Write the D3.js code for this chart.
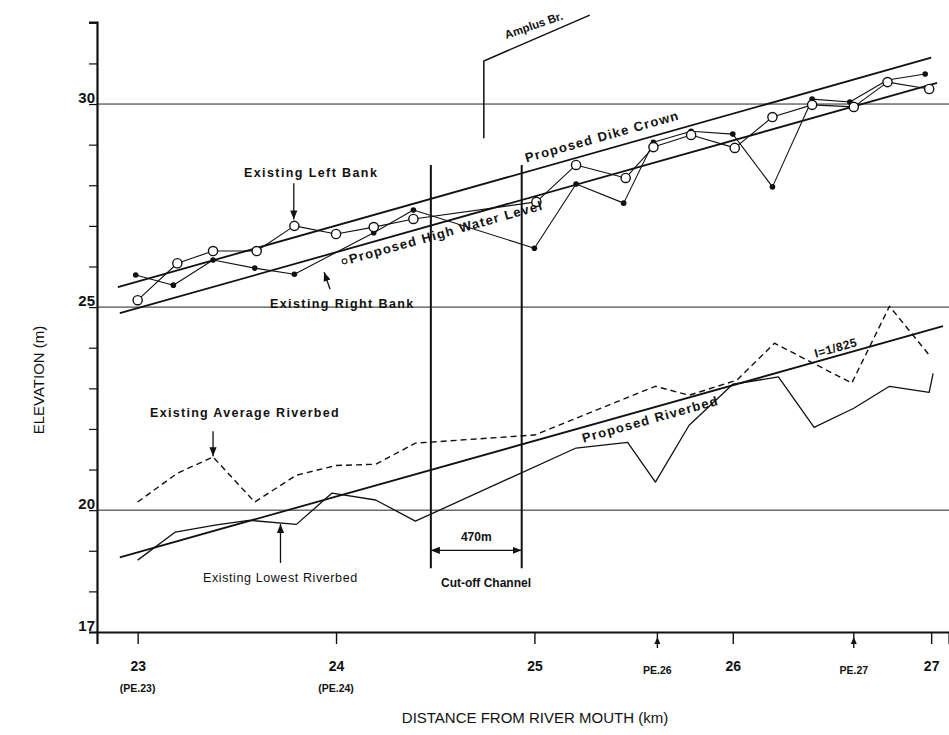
<!DOCTYPE html>
<html><head><meta charset="utf-8">
<script src="https://cdn.jsdelivr.net/npm/d3@7"></script>
<style>
body{margin:0;background:#fff}
text{font-family:"Liberation Sans",Arial,Helvetica,sans-serif;fill:#111}
</style>
</head><body>
<svg id="c" width="949" height="735" xmlns="http://www.w3.org/2000/svg"></svg>
<script>
// ---------- DATA ----------
const leftBankKm   = [23.0,23.2,23.38,23.6,23.79,24.0,24.19,24.39,25.01,25.21,25.46,25.6,25.79,26.01,26.2,26.4,26.61,26.78,26.99];
const leftBankElev = [25.17,26.08,26.38,26.38,27.0,26.8,26.97,27.17,27.59,28.5,28.18,28.94,29.24,28.92,29.68,29.98,29.93,30.54,30.37];

const rightBankKm   = [22.99,23.18,23.38,23.59,23.79,24.19,24.39,25.0,25.21,25.45,25.6,25.79,26.0,26.2,26.4,26.59,26.78,26.97];
const rightBankElev = [25.79,25.54,26.16,25.96,25.81,26.83,27.39,26.45,28.03,27.56,29.06,29.33,29.26,27.96,30.12,30.05,30.59,30.74];

const avgBedKm   = [23.0,23.2,23.38,23.59,23.8,24.0,24.2,24.4,25.0,25.61,25.78,26.02,26.21,26.6,26.79,26.99];
const avgBedElev = [20.2,20.91,21.31,20.2,20.86,21.1,21.13,21.65,21.85,23.05,22.83,23.2,24.11,23.13,25.02,23.82];

const lowBedKm   = [23.0,23.19,23.39,23.56,23.8,23.98,24.2,24.4,25.21,25.47,25.61,25.78,26.0,26.23,26.41,26.61,26.79,26.99,27.01];
const lowBedElev = [18.77,19.46,19.63,19.75,19.65,20.42,20.25,19.73,21.53,21.67,20.69,22.09,23.1,23.28,22.04,22.51,23.05,22.9,23.37];

const dikeCrownKm = [22.9,27.0],  dikeCrownElev = [25.49,31.14];
const hwlKm       = [22.91,27.03], hwlElev      = [24.85,30.52];
const propBedKm   = [22.91,27.06], propBedElev  = [18.84,24.53];

const cutoffKm = [24.478,24.936];
const bridgeKm = [24.745,25.279], bridgeElev = [29.16,31.06,32.19];

const xTickValues = [23,24,25,26,27];
const xSubLabels  = [{km:23,t:"(PE.23)"},{km:24,t:"(PE.24)"}];
const peMarks     = [{km:25.62,t:"PE.26"},{km:26.61,t:"PE.27"}];
const yTickValues = d3.range(17,33);
const yLabelValues = [17,20,25,30];
const gridValues  = [20,25,30];

// ---------- SCALES ----------
const svg = d3.select("#c");
const x = d3.scaleLinear().domain([22.795,27.09]).range([97,949]);
const y = d3.scaleLinear().domain([17,32.02]).range([632,22]);

const defs = svg.append("defs");
defs.append("marker").attr("id","ah").attr("viewBox","0 0 10 10").attr("refX",10).attr("refY",5)
  .attr("markerWidth",9).attr("markerHeight",9).attr("markerUnits","userSpaceOnUse").attr("orient","auto-start-reverse")
  .append("path").attr("d","M0,1 L10,5 L0,9 Z").attr("fill","#111");

// gridlines
svg.append("g").selectAll("line").data(gridValues).join("line")
  .attr("x1",x.range()[0]).attr("x2",x.range()[1])
  .attr("y1",d=>y(d)).attr("y2",d=>y(d))
  .attr("stroke","#222").attr("stroke-width",1);

// axes
const yAxis = svg.append("g").attr("transform",`translate(${x.range()[0]},0)`)
  .call(d3.axisLeft(y).tickValues(yTickValues).tickSize(8).tickFormat(""));
yAxis.select(".domain").attr("stroke-width",2.2).attr("stroke","#111");
yAxis.selectAll(".tick line").attr("stroke","#111").attr("stroke-width",1.2);

svg.append("g").selectAll("text").data(yLabelValues).join("text")
  .attr("x",x.range()[0]-2).attr("y",d=>y(d)-1).attr("text-anchor","end")
  .style("font-size","15px").style("font-weight","bold").text(d=>d);

const xAxis = svg.append("g").attr("transform",`translate(0,${y.range()[0]})`)
  .call(d3.axisBottom(x).tickValues(xTickValues).tickSize(12).tickPadding(17).tickFormat(d=>d));
xAxis.select(".domain").attr("stroke-width",2.2).attr("stroke","#111");
xAxis.selectAll(".tick line").attr("stroke","#111").attr("stroke-width",1.4);
xAxis.selectAll(".tick text").style("font-size","14px").style("font-weight","bold")
  .style("font-family","Liberation Sans, Arial, sans-serif").attr("fill","#111");

svg.append("g").selectAll("text").data(xSubLabels).join("text")
  .attr("x",d=>x(d.km)).attr("y",y.range()[0]+60).attr("text-anchor","middle")
  .style("font-size","10.5px").style("font-weight","bold").text(d=>d.t);

const pe = svg.append("g").selectAll("g").data(peMarks).join("g")
  .attr("transform",d=>`translate(${x(d.km)},${y.range()[0]})`);
pe.append("line").attr("x1",0).attr("x2",0).attr("y1",0).attr("y2",16).attr("stroke","#111").attr("stroke-width",1.4);
pe.append("path").attr("d","M0,5 L-3,12 L3,12 Z").attr("fill","#111");
pe.append("text").attr("y",42).attr("text-anchor","middle")
  .style("font-size","10.5px").style("font-weight","bold").text(d=>d.t);

svg.append("text").attr("x",535).attr("y",723).attr("text-anchor","middle")
  .style("font-size","15px").text("DISTANCE FROM RIVER MOUTH (km)");
svg.append("text").attr("transform","translate(44,380) rotate(-90)").attr("text-anchor","middle")
  .style("font-size","15px").text("ELEVATION (m)");

// ---------- LINES ----------
const line = d3.line().x(d=>x(d[0])).y(d=>y(d[1]));
const zip = (a,b)=>a.map((v,i)=>[v,b[i]]);

function drawLine(km, elev, w, dash){
  svg.append("path").datum(zip(km,elev)).attr("d",line)
    .attr("fill","none").attr("stroke","#111").attr("stroke-width",w)
    .attr("stroke-dasharray",dash||null).attr("stroke-linejoin","round");
}
drawLine(dikeCrownKm,dikeCrownElev,1.8);
drawLine(hwlKm,hwlElev,1.8);
drawLine(propBedKm,propBedElev,1.8);
drawLine(avgBedKm,avgBedElev,1.4,"6,4");
drawLine(lowBedKm,lowBedElev,1.3);
drawLine(rightBankKm,rightBankElev,1.1);
drawLine(leftBankKm,leftBankElev,1.1);

svg.append("g").selectAll("circle").data(zip(rightBankKm,rightBankElev)).join("circle")
  .attr("cx",d=>x(d[0])).attr("cy",d=>y(d[1])).attr("r",2.8).attr("fill","#111");
svg.append("g").selectAll("circle").data(zip(leftBankKm,leftBankElev)).join("circle")
  .attr("cx",d=>x(d[0])).attr("cy",d=>y(d[1])).attr("r",4.6)
  .attr("fill","#fff").attr("stroke","#111").attr("stroke-width",1.4);

// ---------- ANNOTATIONS ----------
function labelAlong(km, elev, kmC, off, txt, size, ls){
  const ang = Math.atan2(y(elev[1])-y(elev[0]), x(km[1])-x(km[0]))*180/Math.PI;
  const e = elev[0]+(elev[1]-elev[0])*(kmC-km[0])/(km[1]-km[0]);
  const g = svg.append("g").attr("transform",`translate(${x(kmC)},${y(e)}) rotate(${ang})`);
  const t = g.append("text").attr("x",0).attr("y",off).attr("text-anchor","middle")
    .style("font-size",size+"px").style("font-weight","bold").style("letter-spacing",ls+"px").text(txt);
  return {g,t};
}
labelAlong(dikeCrownKm,dikeCrownElev,25.36,-9,"Proposed Dike Crown",13,1.3);
const hw = labelAlong(hwlKm,hwlElev,24.54,15,"Proposed High Water Level",13,1.3);
const hwW = hw.t.node().getComputedTextLength();
hw.g.append("circle").attr("cx",-hwW/2-5).attr("cy",11).attr("r",2.4).attr("fill","none").attr("stroke","#111").attr("stroke-width",1.1);
labelAlong(propBedKm,propBedElev,25.57,15,"Proposed Riverbed",13,1.3);
labelAlong(propBedKm,propBedElev,26.53,-4,"I=1/825",12,0.5);

function arrow(x1,y1,x2,y2){
  svg.append("line").attr("x1",x1).attr("y1",y1).attr("x2",x2).attr("y2",y2)
    .attr("stroke","#111").attr("stroke-width",1.3).attr("marker-end","url(#ah)");
}
function text(xp,yp,t,size,weight,ls,anchor){
  svg.append("text").attr("x",xp).attr("y",yp).attr("text-anchor",anchor||"start")
    .style("font-size",size+"px").style("font-weight",weight).style("letter-spacing",ls+"px").text(t);
}
text(244,177,"Existing Left Bank",12.5,"bold",1.4);
arrow(x(23.787),y(28.05),x(23.787),y(27.16));
text(270,308,"Existing Right Bank",12.5,"bold",1.4);
arrow(x(23.97),y(25.44),x(23.94),y(25.86));
text(150,417,"Existing Average Riverbed",12.5,"bold",1.3);
arrow(x(23.38),y(21.94),x(23.38),y(21.33));
text(203,582,"Existing Lowest Riverbed",12.5,"normal",0.6);
arrow(x(23.72),y(18.7),x(23.72),y(19.66));

// cut-off channel
svg.append("g").selectAll("line").data(cutoffKm).join("line")
  .attr("x1",d=>x(d)).attr("x2",d=>x(d)).attr("y1",y(28.5)).attr("y2",y(18.57))
  .attr("stroke","#111").attr("stroke-width",2);
svg.append("line").attr("x1",x(cutoffKm[0])).attr("x2",x(cutoffKm[1]))
  .attr("y1",y(19.01)).attr("y2",y(19.01)).attr("stroke","#111").attr("stroke-width",1.1)
  .attr("marker-start","url(#ah)").attr("marker-end","url(#ah)");
text((x(cutoffKm[0])+x(cutoffKm[1]))/2,541,"470m",12,"bold",0,"middle");
text(441,587,"Cut-off Channel",12,"bold",0);

// Amplus bridge
svg.append("path")
  .attr("d",`M${x(bridgeKm[0])},${y(bridgeElev[0])} L${x(bridgeKm[0])},${y(bridgeElev[1])} L${x(bridgeKm[1])},${y(bridgeElev[2])}`)
  .attr("fill","none").attr("stroke","#111").attr("stroke-width",1.5);
svg.append("text").attr("transform","translate(535,29) rotate(-19)").attr("text-anchor","middle")
  .style("font-size","11.5px").style("font-weight","bold").text("Amplus Br.");
</script>
</body></html>
